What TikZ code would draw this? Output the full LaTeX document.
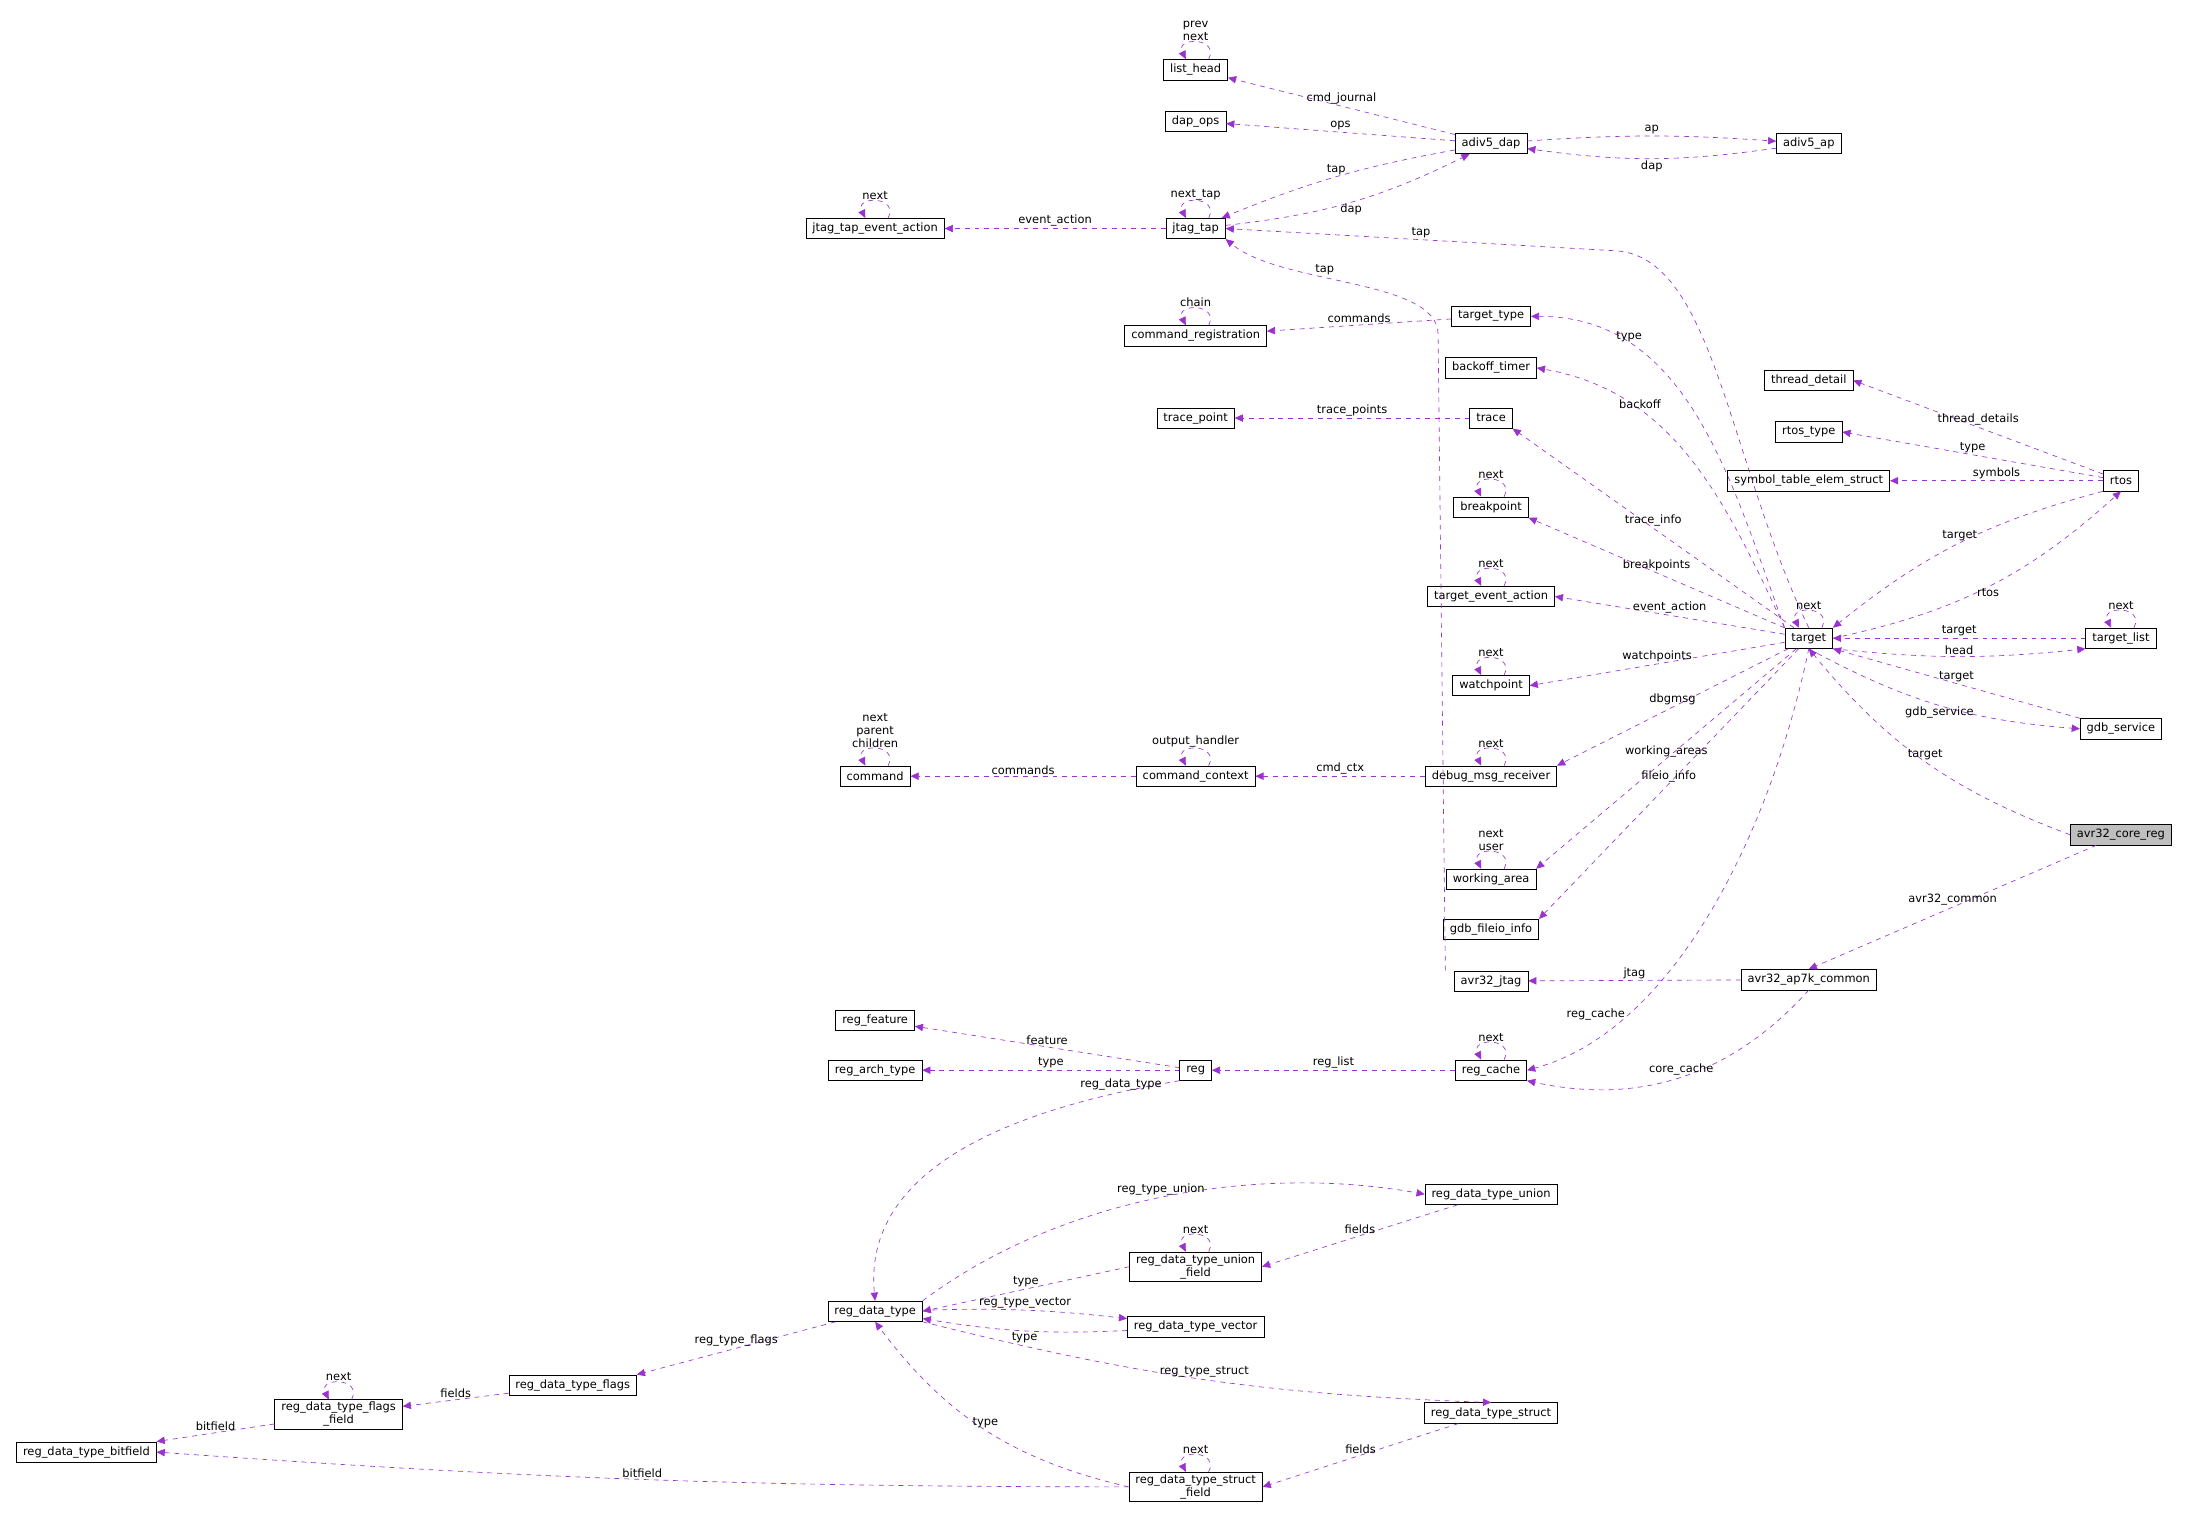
\documentclass[tikz,border=0pt]{standalone}
\usepackage{fontspec}
\setmainfont{DejaVu Sans}
\usetikzlibrary{arrows.meta}
\definecolor{edgepurple}{RGB}{154,50,205}
\tikzset{
  box/.style={draw, fill=white, font=\fontsize{7}{8}\selectfont, inner xsep=4pt, inner ysep=1.5pt, minimum height=12.5pt, align=center},
  link/.style={draw=edgepurple, dashed, -{Triangle[length=5pt,width=4.5pt,fill=edgepurple]}},
  lbl/.style={font=\fontsize{7}{8}\selectfont, inner sep=1pt, align=center},
}
\newcommand{\selfloop}[2]{%
  \draw[link] ([xshift=8]#1.north) .. controls +(8,16) and +(-8,16) .. ([xshift=-6]#1.north);
  \node[lbl,above] at ([yshift=10]#1.north) {#2};}
\begin{document}
\begin{tikzpicture}[x=0.03cm,y=0.03cm]
  \useasboundingbox (0,0) rectangle (1568,-1086);

  % classes
  \node[box] (list_head) at (858,-50) {list\_head};
  \node[box] (dap_ops) at (858,-87) {dap\_ops};
  \node[box] (adiv5_dap) at (1070,-103) {adiv5\_dap};
  \node[box] (adiv5_ap) at (1298,-103) {adiv5\_ap};
  \node[box] (jtag_tap) at (858,-164) {jtag\_tap};
  \node[box] (jtag_tap_event_action) at (628,-164) {jtag\_tap\_event\_action};
  \node[box] (command_registration) at (858,-241) {command\_registration};
  \node[box] (target_type) at (1070,-227) {target\_type};
  \node[box] (backoff_timer) at (1070,-264) {backoff\_timer};
  \node[box] (trace) at (1070,-300) {trace};
  \node[box] (trace_point) at (858,-300) {trace\_point};
  \node[box] (thread_detail) at (1298,-273) {thread\_detail};
  \node[box] (rtos_type) at (1298,-310) {rtos\_type};
  \node[box] (symbol_table_elem_struct) at (1298,-345) {symbol\_table\_elem\_struct};
  \node[box] (rtos) at (1522,-345) {rtos};
  \node[box] (breakpoint) at (1070,-364) {breakpoint};
  \node[box] (target_event_action) at (1070,-428) {target\_event\_action};
  \node[box] (target) at (1298,-458) {target};
  \node[box] (target_list) at (1522,-458) {target\_list};
  \node[box] (watchpoint) at (1070,-492) {watchpoint};
  \node[box] (gdb_service) at (1522,-523) {gdb\_service};
  \node[box] (debug_msg_receiver) at (1070,-557) {debug\_msg\_receiver};
  \node[box] (command_context) at (858,-557) {command\_context};
  \node[box] (command) at (628,-557) {command};
  \node[box,fill=black!25] (avr32_core_reg) at (1522,-599) {avr32\_core\_reg};
  \node[box] (working_area) at (1070,-631) {working\_area};
  \node[box] (gdb_fileio_info) at (1070,-667) {gdb\_fileio\_info};
  \node[box] (avr32_jtag) at (1070,-704) {avr32\_jtag};
  \node[box] (avr32_ap7k_common) at (1298,-703) {avr32\_ap7k\_common};
  \node[box] (reg_feature) at (628,-732) {reg\_feature};
  \node[box] (reg_arch_type) at (628,-768) {reg\_arch\_type};
  \node[box] (reg) at (858,-768) {reg};
  \node[box] (reg_cache) at (1070,-768) {reg\_cache};
  \node[box] (reg_data_type_union) at (1070,-857) {reg\_data\_type\_union};
  \node[box] (reg_data_type_union_field) at (858,-909) {reg\_data\_type\_union\\\_field};
  \node[box] (reg_data_type) at (628,-941) {reg\_data\_type};
  \node[box] (reg_data_type_vector) at (858,-952) {reg\_data\_type\_vector};
  \node[box] (reg_data_type_flags) at (411,-994) {reg\_data\_type\_flags};
  \node[box] (reg_data_type_flags_field) at (243,-1015) {reg\_data\_type\_flags\\\_field};
  \node[box] (reg_data_type_bitfield) at (62,-1042) {reg\_data\_type\_bitfield};
  \node[box] (reg_data_type_struct) at (1070,-1014) {reg\_data\_type\_struct};
  \node[box] (reg_data_type_struct_field) at (858,-1067) {reg\_data\_type\_struct\\\_field};

  % self references
  \selfloop{list_head}{prev\\next}
  \selfloop{jtag_tap}{next\_tap}
  \selfloop{jtag_tap_event_action}{next}
  \selfloop{command_registration}{chain}
  \selfloop{breakpoint}{next}
  \selfloop{target_event_action}{next}
  \selfloop{target}{next}
  \selfloop{target_list}{next}
  \selfloop{watchpoint}{next}
  \selfloop{debug_msg_receiver}{next}
  \selfloop{command_context}{output\_handler}
  \selfloop{command}{next\\parent\\children}
  \selfloop{working_area}{next\\user}
  \selfloop{reg_cache}{next}
  \selfloop{reg_data_type_union_field}{next}
  \selfloop{reg_data_type_flags_field}{next}
  \selfloop{reg_data_type_struct_field}{next}

  % members
  \draw[link] (adiv5_dap) -- node[lbl,above]{cmd\_journal} (list_head);
  \draw[link] (adiv5_dap) -- node[lbl,above]{ops} (dap_ops);
  \draw[link] (adiv5_dap) to[bend left=4] node[lbl,above]{ap} (adiv5_ap);
  \draw[link] (adiv5_ap) to[bend left=8] node[lbl,below]{dap} (adiv5_dap);
  \draw[link] (adiv5_dap) to[bend right=6] node[lbl,above]{tap} (jtag_tap);
  \draw[link] (jtag_tap) to[bend right=10] node[lbl,below]{dap} (adiv5_dap);
  \draw[link] (jtag_tap) -- node[lbl,above]{event\_action} (jtag_tap_event_action);
  \draw[link] (target.north) .. controls (1240,-330) and (1230,-185) .. (1160,-180)
    -- node[lbl,above]{tap} (jtag_tap.east);
  \draw[link] ([xshift=-28]avr32_jtag.north) -- (1032,-240)
    .. controls (1032,-200) and (920,-205) .. node[lbl,above,pos=0.6]{tap} (jtag_tap.south east);
  \draw[link] (target_type) -- node[lbl,above]{commands} (command_registration);
  \draw[link] (trace) -- node[lbl,above]{trace\_points} (trace_point);
  \draw[link] (rtos) -- node[lbl,above]{thread\_details} (thread_detail.east);
  \draw[link] (rtos) -- node[lbl,above]{type} (rtos_type.east);
  \draw[link] (rtos) -- node[lbl,above]{symbols} (symbol_table_elem_struct);
  \draw[link] (rtos.south west) to[bend right=12] node[lbl,above]{target} (target.north east);
  \draw[link] (target.east) to[bend right=15] node[lbl,below]{rtos} (rtos.south);
  \draw[link] (target_list) -- node[lbl,above]{target} (target);
  \draw[link] (target.south east) to[bend right=6] node[lbl,above]{head} (target_list.south west);
  \draw[link] (gdb_service.north west) -- node[lbl,above]{target} (target.south east);
  \draw[link] (target.south) to[bend right=12] node[lbl,below]{gdb\_service} (gdb_service.west);
  \draw[link] (avr32_core_reg.west) to[bend left=15] node[lbl,above]{target} (target.south);
  \draw[link] (avr32_core_reg) -- node[lbl,above]{avr32\_common} (avr32_ap7k_common.north);
  \draw[link] (avr32_ap7k_common) -- node[lbl,above]{jtag} (avr32_jtag);
  \draw[link] (target.north west) to[out=110,in=0] node[lbl,above,pos=0.75]{type} (target_type.east);
  \draw[link] (target.north west) to[out=115,in=-10] node[lbl,above,pos=0.7]{backoff} (backoff_timer.east);
  \draw[link] (target) -- node[lbl,above]{trace\_info} (trace.south east);
  \draw[link] (target) -- node[lbl,above]{breakpoints} (breakpoint.south east);
  \draw[link] (target) -- node[lbl,above]{event\_action} (target_event_action.east);
  \draw[link] (target) -- node[lbl,above]{watchpoints} (watchpoint.east);
  \draw[link] (target) -- node[lbl,above]{dbgmsg} (debug_msg_receiver.north east);
  \draw[link] (target) -- node[lbl,above]{working\_areas} (working_area.north east);
  \draw[link] (target) -- node[lbl,above]{fileio\_info} (gdb_fileio_info.north east);
  \draw[link] (target.south) .. controls (1270,-600) and (1200,-740) .. node[lbl,left,pos=0.75]{reg\_cache} (reg_cache.east);
  \draw[link] (avr32_ap7k_common.south) to[bend left=30] node[lbl,above]{core\_cache} (reg_cache.south east);
  \draw[link] (debug_msg_receiver) -- node[lbl,above]{cmd\_ctx} (command_context);
  \draw[link] (command_context) -- node[lbl,above]{commands} (command);
  \draw[link] (reg_cache) -- node[lbl,above]{reg\_list} (reg);
  \draw[link] (reg) -- node[lbl,above]{feature} (reg_feature);
  \draw[link] (reg) -- node[lbl,above]{type} (reg_arch_type);
  \draw[link] (reg.south west) .. controls (700,-800) and (620,-850) .. node[lbl,above,pos=0.1]{reg\_data\_type} (reg_data_type.north);
  \draw[link] (reg_data_type.north east) .. controls (760,-860) and (900,-835) .. node[lbl,above]{reg\_type\_union} (reg_data_type_union.west);
  \draw[link] (reg_data_type_union) -- node[lbl,above]{fields} (reg_data_type_union_field.east);
  \draw[link] (reg_data_type_union_field.west) -- node[lbl,above]{type} (reg_data_type.east);
  \draw[link] (reg_data_type) to[bend left=4] node[lbl,above]{reg\_type\_vector} (reg_data_type_vector);
  \draw[link] (reg_data_type_vector) to[bend left=6] node[lbl,below]{type} (reg_data_type);
  \draw[link] (reg_data_type) -- node[lbl,above]{reg\_type\_flags} (reg_data_type_flags.north east);
  \draw[link] (reg_data_type_flags) -- node[lbl,above]{fields} (reg_data_type_flags_field);
  \draw[link] (reg_data_type_flags_field) -- node[lbl,above]{bitfield} (reg_data_type_bitfield.north east);
  \draw[link] (reg_data_type.south east) to[bend right=6] node[lbl,above]{reg\_type\_struct} (reg_data_type_struct.north);
  \draw[link] (reg_data_type_struct) -- node[lbl,above]{fields} (reg_data_type_struct_field.east);
  \draw[link] (reg_data_type_struct_field.west) to[bend left=20] node[lbl,above]{type} (reg_data_type.south);
  \draw[link] (reg_data_type_struct_field.west) to[bend left=2] node[lbl,above]{bitfield} (reg_data_type_bitfield.east);
\end{tikzpicture}
\end{document}
